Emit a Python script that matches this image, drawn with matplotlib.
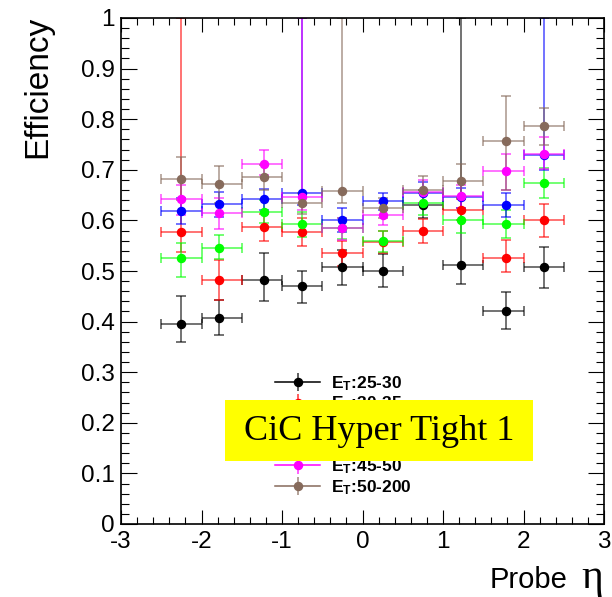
import matplotlib
matplotlib.use("Agg")
import matplotlib.pyplot as plt
import numpy as np
from matplotlib.patches import Rectangle
from matplotlib.lines import Line2D
from matplotlib.legend_handler import HandlerTuple
from matplotlib.ticker import MultipleLocator

plt.rcParams['font.family'] = ['Liberation Sans', 'DejaVu Sans']
plt.rcParams['mathtext.fontset'] = 'custom'
plt.rcParams['mathtext.rm'] = 'Liberation Sans'
plt.rcParams['mathtext.bf'] = 'Liberation Sans:bold'
plt.rcParams['mathtext.it'] = 'Liberation Sans:italic'

# ---- data ----
eta_mean = [-2.25, -1.78, -1.22, -0.75, -0.25, 0.25, 0.75, 1.22, 1.78, 2.25]
bin_lo = [-2.5, -2.0, -1.5, -1.0, -0.5, 0.0, 0.5, 1.0, 1.5, 2.0]
bin_hi = [-2.0, -1.5, -1.0, -0.5, 0.0, 0.5, 1.0, 1.5, 2.0, 2.5]

labels = [r'$\mathbf{E_T}$:25-30', r'$\mathbf{E_T}$:30-35', r'$\mathbf{E_T}$:35-40',
          r'$\mathbf{E_T}$:40-45', r'$\mathbf{E_T}$:45-50', r'$\mathbf{E_T}$:50-200']
colors = ['#000000', '#ff0000', '#00ff00', '#0000ff', '#ff00ff', '#866a5b']

eff_25_30 = [0.396, 0.408, 0.483, 0.470, 0.508, 0.500, 0.630, 0.512, 0.421, 0.507]
hi_25_30 = [0.451, 0.443, 0.536, 0.500, 0.542, 0.533, 0.660, 1.000, 0.458, 0.547]
lo_25_30 = [0.360, 0.374, 0.441, 0.437, 0.473, 0.468, 0.605, 0.475, 0.385, 0.467]

eff_30_35 = [0.578, 0.482, 0.586, 0.578, 0.535, 0.557, 0.580, 0.621, 0.526, 0.600]
hi_30_35 = [1.000, 0.522, 0.612, 0.605, 0.560, 0.580, 0.603, 0.643, 0.561, 0.633]
lo_30_35 = [0.538, 0.443, 0.559, 0.549, 0.510, 0.535, 0.555, 0.600, 0.498, 0.567]

eff_35_40 = [0.526, 0.546, 0.617, 0.592, 0.584, 0.559, 0.634, 0.600, 0.593, 0.674]
hi_35_40 = [0.555, 0.572, 0.640, 0.616, 0.605, 0.580, 0.655, 0.625, 0.620, 0.703]
lo_35_40 = [0.489, 0.524, 0.595, 0.567, 0.563, 0.538, 0.610, 0.575, 0.565, 0.644]

eff_40_45 = [0.619, 0.632, 0.642, 0.654, 0.601, 0.638, 0.654, 0.646, 0.630, 0.730]
hi_40_45 = [0.645, 0.657, 0.663, 1.000, 0.625, 0.655, 0.675, 0.665, 0.654, 1.000]
lo_40_45 = [0.593, 0.607, 0.620, 0.630, 0.578, 0.620, 0.632, 0.625, 0.607, 0.700]

eff_45_50 = [0.643, 0.615, 0.712, 0.647, 0.584, 0.611, 0.657, 0.649, 0.698, 0.731]
hi_45_50 = [0.670, 0.645, 0.740, 1.000, 0.605, 0.635, 0.680, 0.670, 0.731, 0.765]
lo_45_50 = [0.610, 0.583, 0.690, 0.620, 0.562, 0.590, 0.635, 0.625, 0.661, 0.701]

eff_50_200 = [0.681, 0.671, 0.685, 0.634, 0.659, 0.625, 0.661, 0.678, 0.757, 0.787]
hi_50_200 = [0.725, 0.708, 0.710, 0.655, 1.000, 0.645, 0.688, 0.711, 0.845, 0.823]
lo_50_200 = [0.640, 0.635, 0.660, 0.612, 0.635, 0.605, 0.635, 0.645, 0.661, 0.750]

series = [
    (eff_25_30, lo_25_30, hi_25_30),
    (eff_30_35, lo_30_35, hi_30_35),
    (eff_35_40, lo_35_40, hi_35_40),
    (eff_40_45, lo_40_45, hi_40_45),
    (eff_45_50, lo_45_50, hi_45_50),
    (eff_50_200, lo_50_200, hi_50_200),
]

W, H = 612, 597
fig = plt.figure(figsize=(W / 100, H / 100), dpi=100)
ax = fig.add_axes([121 / W, 1 - 524 / H, (604 - 121) / W, (524 - 18) / H])

x = np.array(eta_mean)
xerr = [x - np.array(bin_lo), np.array(bin_hi) - x]

handles = []
for (eff, lo, hi), col, lab in zip(series, colors, labels):
    eff = np.array(eff)
    yerr = [eff - np.array(lo), np.array(hi) - eff]
    c = ax.errorbar(x, eff, xerr=xerr, yerr=yerr, fmt='o', color=col, ms=5.8,
                    mec=col, mfc=col, ecolor=col, elinewidth=1.1, capsize=3.5,
                    capthick=1.1)
    for art in c[1] + c[2]:
        art.set_alpha(0.7)
    h_line = Line2D([], [], color=col, lw=1.1, marker='o', ms=5.8, mec=col, mfc=col)
    h_vert = Line2D([], [], color=col, lw=0, marker='|', ms=13, mew=1.1, alpha=0.8)
    handles.append((h_line, h_vert))

ax.set_xlim(-3, 3)
ax.set_ylim(0, 1)
ax.xaxis.set_minor_locator(MultipleLocator(0.2))
ax.yaxis.set_minor_locator(MultipleLocator(0.02))
ax.set_yticks(np.arange(0, 1.01, 0.1))
ax.set_yticklabels(['0', '0.1', '0.2', '0.3', '0.4', '0.5', '0.6', '0.7', '0.8', '0.9', '1'])
ax.set_xticks(np.arange(-3, 3.1, 1))
ax.set_xticklabels(['-3', '-2', '-1', '0', '1', '2', '3'])

ax.tick_params(axis='both', which='both', direction='in', top=True, right=True,
               labelsize=17.5, width=0.8, color='black')
ax.tick_params(axis='y', which='major', length=11.5, pad=4.5)
ax.tick_params(axis='y', which='minor', length=5.8)
ax.tick_params(axis='x', which='major', length=10, pad=5)
ax.tick_params(axis='x', which='minor', length=5)
for s in ax.spines.values():
    s.set_linewidth(1.2)

fig.text(38 / W, 1 - 16 / H, 'Efficiency', rotation=90, ha='center', va='top', fontsize=24)
fig.text(567 / W, 1 - 588 / H, 'Probe', ha='right', va='baseline', fontsize=21)
fig.text(603 / W, 1 - 588 / H, 'η', ha='right', va='baseline', fontsize=30,
         family='Liberation Serif')

leg = ax.legend(handles=handles, labels=labels, loc='upper left',
                bbox_to_anchor=(275 / W, 1 - 374 / H),
                bbox_transform=fig.transFigure, frameon=False,
                handler_map={tuple: HandlerTuple(ndivide=1)},
                prop={'weight': 'bold', 'size': 12.5}, handlelength=2.6,
                handletextpad=0.6, labelspacing=0.12, borderpad=0, borderaxespad=0)

# yellow label box
fig.patches.append(Rectangle((225 / W, 1 - 461 / H), (533 - 225) / W, (461 - 400) / H,
                             transform=fig.transFigure, facecolor='#ffff00',
                             edgecolor='none', zorder=10))
fig.text(244 / W, 1 - 431 / H, 'CiC Hyper Tight 1', ha='left', va='center',
         fontsize=26, family='Liberation Serif', zorder=11)

fig.savefig('out.png', dpi=100)
